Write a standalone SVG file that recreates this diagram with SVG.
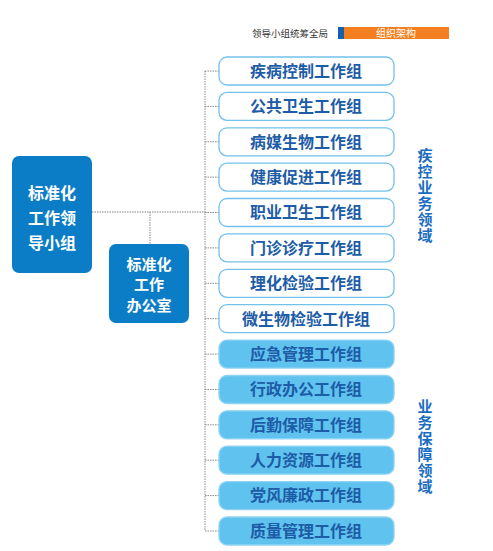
<svg xmlns="http://www.w3.org/2000/svg" width="493" height="551" viewBox="0 0 493 551">
<style>
.lead{fill:#0b7dc6;}
.lt{font-family:"Noto Sans CJK SC",sans-serif;font-weight:bold;font-size:16px;fill:#fff;text-anchor:middle;}
.w{fill:#fff;stroke:#72c2eb;stroke-width:1.3;}
.b{fill:#5fc2ef;stroke:#8fd3f3;stroke-width:1.3;}
.bt{font-family:"Noto Sans CJK SC",sans-serif;font-weight:bold;font-size:16px;fill:#1d5ca6;text-anchor:middle;}
.vt{font-family:"Noto Sans CJK SC",sans-serif;font-weight:bold;font-size:15px;fill:#1b6dc1;writing-mode:vertical-rl;letter-spacing:1px;}
.ln{stroke:#888;stroke-width:1;stroke-dasharray:1.5,1;fill:none;}
</style>
<g id="header">
<text x="290" y="37" font-family="Noto Sans CJK SC,sans-serif" font-size="9.5" fill="#333" text-anchor="middle">领导小组统筹全局</text>
<rect x="338" y="27" width="6" height="12" fill="#1660ad"/>
<rect x="344" y="27" width="105" height="12" fill="#f47f20"/>
<text x="396" y="37" font-family="Noto Sans CJK SC,sans-serif" font-size="10" fill="#fff" text-anchor="middle">组织架构</text>
</g>
<g id="connectors">
<path class="ln" d="M92 212H205M150 212V244M205 71V531"/>
<path class="ln" d="M205 71H219M205 106.4H219M205 141.8H219M205 177.1H219M205 212.5H219M205 247.9H219M205 283.3H219M205 318.7H219M205 354.1H219M205 389.5H219M205 424.8H219M205 460.2H219M205 495.6H219M205 531H219"/>
</g>
<g id="lead">
<rect class="lead" x="12" y="156" width="80" height="117" rx="7"/>
<text class="lt"><tspan x="52" y="199">标准化</tspan><tspan x="52" y="224">工作领</tspan><tspan x="52" y="249">导小组</tspan></text>
</g>
<g id="office">
<rect class="lead" x="109" y="244" width="80" height="79" rx="7"/>
<text class="lt" style="font-size:15px"><tspan x="149" y="269.5">标准化</tspan><tspan x="149" y="290">工作</tspan><tspan x="149" y="310.5">办公室</tspan></text>
</g>
<g id="g1"><rect class="w" x="219" y="57" width="175" height="28" rx="8"/><text class="bt" x="306" y="76.8">疾病控制工作组</text></g>
<g id="g2"><rect class="w" x="219" y="92.4" width="175" height="28" rx="8"/><text class="bt" x="306" y="112.2">公共卫生工作组</text></g>
<g id="g3"><rect class="w" x="219" y="127.8" width="175" height="28" rx="8"/><text class="bt" x="306" y="147.6">病媒生物工作组</text></g>
<g id="g4"><rect class="w" x="219" y="163.1" width="175" height="28" rx="8"/><text class="bt" x="306" y="182.9">健康促进工作组</text></g>
<g id="g5"><rect class="w" x="219" y="198.5" width="175" height="28" rx="8"/><text class="bt" x="306" y="218.3">职业卫生工作组</text></g>
<g id="g6"><rect class="w" x="219" y="233.9" width="175" height="28" rx="8"/><text class="bt" x="306" y="253.7">门诊诊疗工作组</text></g>
<g id="g7"><rect class="w" x="219" y="269.3" width="175" height="28" rx="8"/><text class="bt" x="306" y="289.1">理化检验工作组</text></g>
<g id="g8"><rect class="w" x="219" y="304.7" width="175" height="28" rx="8"/><text class="bt" x="306" y="324.5">微生物检验工作组</text></g>
<g id="g9"><rect class="b" x="219" y="340.1" width="175" height="28" rx="8"/><text class="bt" x="306" y="359.9">应急管理工作组</text></g>
<g id="g10"><rect class="b" x="219" y="375.5" width="175" height="28" rx="8"/><text class="bt" x="306" y="395.3">行政办公工作组</text></g>
<g id="g11"><rect class="b" x="219" y="410.8" width="175" height="28" rx="8"/><text class="bt" x="306" y="430.6">后勤保障工作组</text></g>
<g id="g12"><rect class="b" x="219" y="446.2" width="175" height="28" rx="8"/><text class="bt" x="306" y="466">人力资源工作组</text></g>
<g id="g13"><rect class="b" x="219" y="481.6" width="175" height="28" rx="8"/><text class="bt" x="306" y="501.4">党风廉政工作组</text></g>
<g id="g14"><rect class="b" x="219" y="517" width="175" height="28" rx="8"/><text class="bt" x="306" y="536.8">质量管理工作组</text></g>
<g id="label1"><text class="vt" x="425" y="148">疾控业务领域</text></g>
<g id="label2"><text class="vt" x="425" y="399">业务保障领域</text></g>
</svg>
